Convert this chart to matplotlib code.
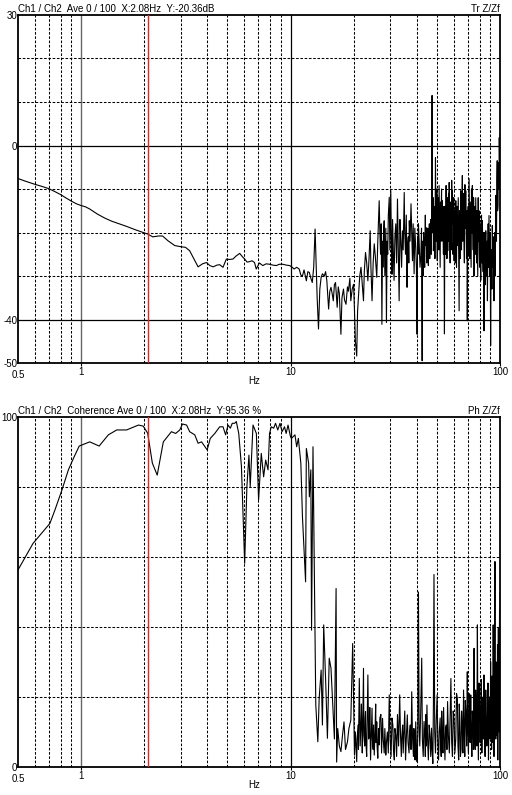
import matplotlib.pyplot as plt

plt.rcParams['font.family'] = ['Liberation Sans', 'DejaVu Sans']

# transfer function, dB (top panel)
tf_freq = [0.50, 0.55, 0.60, 0.65, 0.70, 0.75, 0.80, 0.85, 0.90, 0.95, 1.00, 1.05, 1.10, 1.20, 1.30,
           1.40, 1.50, 1.65, 1.80, 1.95, 2.08, 2.20, 2.35, 2.45, 2.60, 2.80, 3.02, 3.15, 3.30, 3.45,
           3.62, 3.80, 3.97, 4.12, 4.27, 4.45, 4.59, 4.76, 4.94, 5.10, 5.31, 5.50, 5.72, 5.90, 6.04,
           6.20, 6.37, 6.55, 6.73, 6.86, 7.10, 7.37, 7.65, 7.93, 8.25, 8.54, 8.85, 9.18, 9.55, 9.90,
           10.2, 10.4, 10.7, 11.0, 11.2, 11.4, 11.6, 11.9, 12.1, 12.3, 12.5, 12.7, 12.9, 13.1, 13.4,
           13.6, 13.8, 14.0, 14.2, 14.5, 14.7, 14.9, 15.2, 15.4, 15.6, 15.8, 16.0, 16.2, 16.4, 16.7,
           16.9, 17.1, 17.4, 17.6, 17.9, 18.1, 18.4, 18.7, 18.9, 19.2, 19.4, 19.7, 20.0, 20.2, 20.4,
           20.7, 20.9, 21.2, 21.4, 21.7, 22.0, 22.3, 22.5, 22.8, 23.1, 23.4, 23.7, 24.0, 24.2, 24.5,
           24.8, 25.1, 25.4, 25.8, 26.1,
           26.5, 26.7, 26.9, 27.1, 27.3, 27.5, 27.6, 27.8, 28.0, 28.2, 28.3, 28.5, 28.7, 28.9, 29.1,
           29.3, 29.6, 29.8, 30.1, 30.3, 30.5, 30.7, 30.8, 31.0, 31.2, 31.5, 31.8, 32.1, 32.4, 32.7,
           33.0, 33.3, 33.6, 33.9, 34.2, 34.5, 34.9, 35.1, 35.4, 35.7, 36.0, 36.2, 36.5, 36.7, 36.9,
           37.2, 37.6, 37.9, 38.2, 38.5, 38.9, 39.2, 39.6, 39.9, 40.2, 40.4, 40.6, 40.8, 41.1, 41.5,
           41.9, 42.2, 42.5, 42.7, 43.0, 43.2, 43.4, 43.7, 44.0, 44.2, 44.4, 44.7, 45.0, 45.2, 45.5,
           45.7, 46.0, 46.2, 46.4, 46.7,
           47.0, 47.2, 47.4, 47.6, 47.8, 48.0, 48.1, 48.4, 48.6, 48.9, 49.2, 49.4, 49.7, 49.9, 50.2,
           50.4, 50.7, 51.0, 51.2, 51.5, 51.8, 52.0, 52.3, 52.4, 52.6, 52.8, 53.0, 53.4, 53.7, 54.0,
           54.3, 54.5, 54.8, 55.0, 55.3, 55.5, 55.8, 56.0, 56.3, 56.5, 56.8, 57.0, 57.2, 57.5, 57.8,
           58.0, 58.3, 58.5, 58.8, 59.0, 59.3, 59.6, 59.9, 60.1, 60.4, 60.6, 60.9, 61.2, 61.5, 61.7,
           62.0, 62.3, 62.6, 62.9, 63.2, 63.5, 63.8, 64.1, 64.4, 64.6, 64.9, 65.2, 65.5, 65.8, 66.1,
           66.4, 66.7, 67.0, 67.3, 67.6, 68.0, 68.3, 68.6, 68.9, 69.2, 69.5, 69.8, 70.1, 70.5, 70.8,
           71.2, 71.5, 71.8, 72.1, 72.5, 72.8, 73.1, 73.4, 73.8, 74.1, 74.5, 74.8, 75.2, 75.5, 75.9,
           76.2, 76.6, 76.9, 77.3, 77.6, 78.0, 78.3, 78.7, 79.0, 79.4, 79.8, 80.1, 80.5, 80.9, 81.2,
           81.6, 82.0, 82.4, 82.7, 83.1, 83.5, 83.9, 84.3, 84.7, 85.1, 85.5, 85.9, 86.3, 86.7, 87.1,
           87.4, 87.8, 88.2, 88.6, 89.0, 89.4, 89.8, 90.2, 90.6, 91.0, 91.5, 91.9, 92.3, 92.7, 93.1,
           93.6, 94.0, 94.5, 94.9, 95.4, 95.8, 96.2, 96.6, 97.0, 97.4, 97.8, 98.2, 98.5, 98.9, 99.2,
           99.6, 100.0]
tf_db = [-7.6, -8.3, -8.9, -9.4, -9.9, -10.6, -11.3, -12.1, -12.8, -13.4, -13.8, -14.1, -14.6, -15.8, -16.7,
         -17.4, -17.9, -18.6, -19.3, -19.9, -20.36, -21.0, -20.8, -20.8, -21.9, -23.0, -23.3, -23.4, -24.2, -26.0,
         -27.9, -27.2, -26.9, -27.6, -27.9, -27.5, -27.4, -28.0, -26.1, -26.2, -26.1, -25.4, -24.8, -25.6, -26.1,
         -26.8, -26.7, -26.5, -26.9, -28.4, -27.0, -27.6, -27.2, -27.3, -27.5, -27.6, -27.3, -27.3, -27.5, -27.6,
         -28.0, -28.4, -28.0, -28.4, -29.8, -30.0, -28.6, -31.1, -29.0, -29.2, -30.5, -31.5, -28.0, -19.2, -35.0,
         -42.2, -33.0, -30.3, -29.5, -30.0, -29.0, -31.0, -37.6, -33.5, -32.6, -34.0, -35.7, -32.0, -31.5, -37.2,
         -32.5, -34.0, -43.4, -35.0, -33.0, -35.5, -36.5, -32.5, -33.5, -30.5, -35.7, -33.0, -31.9, -38.0, -45.0,
         -48.4, -38.0, -33.4, -30.0, -28.0, -32.0, -35.7, -29.0, -24.6, -27.0, -31.1, -26.0, -19.6, -28.0, -35.7,
         -27.0, -22.6, -25.5, -30.3, -22.0,
         -12.7, -20.0, -25.0, -18.0, -41.1, -22.0, -28.0, -20.0, -17.3, -30.0, -26.0, -19.0, -40.7, -22.0, -25.0,
         -16.0, -11.9, -24.0, -10.4, -22.0, -29.6, -17.0, -20.0, -26.0, -31.0, -21.0, -18.0, -27.0, -12.3, -24.0,
         -35.7, -17.0, -22.0, -28.0, -19.6, -24.0, -10.8, -20.0, -25.0, -16.0, -32.6, -23.0, -21.0, -27.0, -17.3,
         -22.0, -13.4, -20.0, -26.5, -18.0, -29.5, -19.0, -23.5, -28.0, -43.4, -21.0, -25.0, -18.0, -21.9, -28.0,
         -25.3, -19.0, -49.5, -22.0, -30.0, -20.0, -24.2, -28.0, -16.0, -23.0, -18.9, -27.0, -24.0, -19.0, -27.6,
         -22.0, -18.0, -26.0, -21.9, -17.0,
         -25.0, -15.0, 11.5, -18.0, -20.0, -12.0, -24.2, -18.0, -14.0, -26.0, -2.8, -16.0, -22.0, -10.0, -26.5,
         -15.0, -12.0, -24.0, -9.2, -19.0, -28.0, -13.0, -21.9, -15.0, -10.0, -22.0, -12.7, -18.0, -25.0, -14.0,
         -43.3, -20.0, -14.0, -25.0, -9.2, -18.0, -26.0, -12.0, -24.2, -16.0, -11.0, -22.0, -8.5, -19.0, -27.0,
         -13.0, -20.7, -24.0, -8.0, -18.0, -10.4, -25.0, -22.0, -12.0, -26.5, -17.0, -15.0, -27.0, -12.7, -21.0,
         -28.0, -14.0, -23.0, -18.0, -12.0, -25.0, -38.0, -15.0, -17.0, -26.0, -10.4, -20.0, -24.0, -13.0, -6.9,
         -22.0, -18.0, -11.0, -21.9, -27.0, -9.0, -19.0, -10.4, -17.0, -26.0, -15.0, -40.3, -20.0, -14.0, -25.0,
         -7.6, -18.0, -26.0, -13.0, -21.9, -28.0, -10.0, -20.0, -9.2, -17.0, -24.0, -12.0, -30.0, -20.0, -14.0,
         -25.0, -12.0, -19.0, -27.0, -15.0, -24.2, -30.0, -12.0, -22.0, -15.0, -26.0, -28.0, -18.0, -31.0, -22.0,
         -16.0, -27.0, -17.3, -24.0, -29.0, -20.0, -42.6, -26.0, -20.0, -32.0, -19.6, -27.0, -30.0, -22.0, -35.7,
         -25.0, -18.0, -28.0, -16.1, -24.0, -30.0, -20.0, -46.0, -28.0, -24.0, -33.0, -18.4, -25.0, -28.0, -21.0,
         -35.7, -26.0, -20.0, -30.0, -11.5, -18.0, -22.0, -8.0, -3.5, -15.0, -13.8, -4.0, -6.0, -10.0, 1.8,
         -5.0, 2.5]

# coherence, % (bottom panel)
coh_freq = [0.50, 0.59, 0.71, 0.75, 0.81, 0.87, 0.92, 0.98, 1.10, 1.22, 1.35, 1.48, 1.65, 1.88, 1.98,
            2.08, 2.13, 2.19, 2.31, 2.47, 2.70, 2.83, 2.96, 3.05, 3.19, 3.30, 3.49, 3.62, 3.76, 3.85,
            4.00, 4.14, 4.35, 4.59, 4.76, 4.90, 5.03, 5.16, 5.27, 5.41, 5.51, 5.66, 5.83, 6.04, 6.19,
            6.33, 6.42, 6.62, 6.87, 7.04, 7.25, 7.44, 7.61, 7.81, 7.94, 8.09, 8.31, 8.48, 8.69, 8.91,
            9.11, 9.36, 9.53, 9.73, 9.99, 10.1, 10.5, 10.7, 10.9, 11.2, 11.4, 11.6, 11.8, 11.9, 12.2,
            12.3, 12.5, 12.6, 12.8, 13.2, 13.5, 13.7, 14.0, 14.2, 14.4, 14.7, 15.0, 15.3, 15.6, 15.9,
            16.2, 16.5, 16.6, 16.8, 17.1, 17.4, 17.7, 18.0, 18.3, 18.7, 19.0, 19.4, 19.8,
            20.2, 20.4, 20.7, 20.8, 21.0, 21.1, 21.3, 21.5, 21.7, 21.8, 22.0, 22.1, 22.3, 22.4, 22.6,
            22.7, 22.8, 22.9, 23.1, 23.2, 23.4, 23.6, 23.8, 23.9, 24.1, 24.3, 24.5, 24.6, 24.8, 24.9,
            25.1, 25.3, 25.5, 25.6, 25.8, 25.9, 26.1, 26.3, 26.5, 26.7, 27.0, 27.2, 27.5, 27.7, 28.0,
            28.2, 28.5, 28.7, 29.0, 29.3, 29.6, 29.9, 30.2, 30.5, 30.8, 31.0, 31.3, 31.5, 31.8, 32.1,
            32.4, 32.8, 33.2, 33.5, 33.8, 34.0, 34.3, 34.5, 34.8, 35.1, 35.4, 35.7, 36.1, 36.4, 36.8,
            37.0, 37.3, 37.6, 37.9, 38.2, 38.6, 38.8, 39.1, 39.3, 39.6, 39.9, 40.2, 40.5, 40.8, 41.1,
            41.4, 41.8, 42.3, 42.6, 43.0, 43.4, 43.8, 44.0, 44.3, 44.5, 44.8, 45.1, 45.5, 45.9, 46.3,
            46.7, 47.1, 47.4, 47.8, 48.1, 48.4, 48.8, 49.2, 49.6, 50.1, 50.5, 50.9, 51.3, 51.8, 52.1,
            52.4, 52.7, 53.0, 53.4, 53.8, 54.2, 54.6, 55.0, 55.4, 55.8, 56.2, 56.7, 57.3, 57.8, 58.3,
            58.8, 59.3, 59.8, 60.4, 60.9, 61.5, 62.0, 62.6, 63.0, 63.5, 63.9, 64.3, 64.7, 65.2, 65.6,
            66.1, 66.5, 67.0, 67.5, 67.9, 68.3, 68.8, 69.3, 69.8, 70.2, 70.7, 71.1, 71.6, 72.0, 72.5,
            72.9, 73.4, 73.8, 74.3, 74.7, 75.2, 75.6, 76.1, 76.5, 77.0, 77.5, 78.0, 78.4, 78.9, 79.4,
            79.9, 80.4, 80.9, 81.4, 81.9, 82.4, 82.9, 83.4, 83.9, 84.4, 84.9, 85.5, 86.0, 86.5, 87.1,
            87.6, 88.1, 88.6, 89.2, 89.7, 90.2, 90.7, 91.2, 91.6, 92.0, 92.4, 92.8, 93.2, 93.6, 94.1,
            94.6, 95.0, 95.5, 95.9, 96.3, 96.7, 97.0, 97.3, 97.6, 97.9, 98.2, 98.6, 99.0, 99.2, 99.5,
            99.8, 100.0]
coh_pct = [56.3, 63.9, 69.6, 73.4, 79.1, 84.9, 88.2, 91.7, 92.9, 91.7, 94.9, 96.3, 96.3, 97.7, 97.4,
           95.36, 91.5, 86.8, 83.4, 92.9, 95.8, 95.3, 96.3, 98.0, 97.7, 95.8, 94.9, 92.5, 92.9, 92.0,
           90.6, 93.9, 95.3, 97.2, 97.2, 94.9, 97.7, 96.8, 98.2, 98.2, 98.7, 95.3, 85.8, 58.2, 80.1,
           89.1, 80.1, 97.7, 95.3, 76.3, 89.6, 82.9, 87.7, 84.9, 95.3, 97.2, 96.8, 98.2, 96.3, 98.2,
           95.8, 97.2, 95.3, 97.7, 94.4, 93.9, 94.9, 91.5, 93.9, 86.8, 71.5, 62.0, 52.9, 91.0, 86.8,
           77.2, 84.9, 39.1, 91.5, 17.7, 7.2, 19.6, 27.7, 12.0, 40.6, 25.3, 8.2, 31.1, 28.2, 17.7,
           8.0, 51.0, 1.4, 11.0, 6.0, 4.4, 9.0, 12.9, 5.0, 7.2, 11.0, 13.4, 35.3,
           3.4, 10.0, 1.5, 8.0, 12.0, 5.0, 25.3, 6.0, 12.9, 18.0, 4.0, 10.0, 28.2, 9.0, 6.0,
           14.0, 15.8, 7.0, 3.0, 11.0, 26.3, 8.0, 9.1, 17.0, 2.0, 9.0, 16.8, 8.0, 5.0, 12.0,
           3.4, 10.0, 18.0, 7.0, 12.9, 6.0, 2.5, 11.0, 6.3, 14.0, 15.0, 4.0, 13.9, 8.0, 4.0,
           11.0, 3.4, 7.0, 10.0, 4.0, 20.6, 8.0, 3.0, 14.0, 12.0, 5.0, 2.0, 11.0, 9.1, 3.0,
           15.0, 6.0, 20.6, 9.0, 3.0, 9.0, 12.0, 4.0, 10.1, 16.0, 2.0, 8.0, 14.9, 7.0, 4.0,
           10.0, 12.0, 5.0, 21.5, 9.0, 3.0, 11.0, 8.0, 2.0, 12.9, 6.0, 1.5, 9.0, 50.0, 12.0,
           6.0, 15.0, 31.1, 8.0, 3.0, 13.0, 8.2, 3.0, 15.0, 6.0, 17.7, 8.0, 2.0, 12.0, 9.0,
           3.0, 11.1, 5.0, 1.0, 18.0, 55.0, 10.0, 4.0, 13.0, 20.6, 7.0, 2.0, 10.0, 14.0, 6.0,
           3.0, 16.0, 9.1, 4.0, 17.0, 8.0, 2.0, 11.0, 12.0, 5.0, 18.7, 9.0, 4.0, 14.0, 25.3,
           7.0, 3.0, 16.0, 12.9, 4.0, 8.0, 21.0, 19.6, 6.0, 2.0, 18.0, 14.0, 3.0, 5.0, 16.0,
           11.1, 4.0, 22.0, 9.0, 3.0, 19.0, 15.0, 6.0, 27.2, 10.0, 4.0, 21.0, 18.0, 7.0, 20.6,
           9.0, 3.0, 16.0, 12.0, 5.0, 33.9, 11.0, 5.0, 22.0, 16.0, 6.0, 40.6, 12.0, 2.0, 24.0,
           18.0, 7.0, 14.9, 25.0, 4.0, 16.0, 20.0, 8.0, 26.3, 10.0, 3.0, 22.0, 15.0, 6.0, 12.9,
           24.0, 2.0, 14.0, 20.0, 8.0, 30.1, 12.0, 5.0, 26.0, 18.0, 7.0, 40.6, 15.0, 3.0, 22.0,
           58.7, 14.0, 8.0, 30.0, 25.0, 9.0, 20.6, 35.0, 2.0, 18.0, 39.6, 22.0, 10.0, 30.0, 45.0,
           20.0, 50.0]

cursor_hz = 2.08
minor_hz = [0.6, 0.7, 0.8, 0.9, 2, 3, 4, 5, 6, 7, 8, 9, 20, 30, 40, 50, 60, 70, 80, 90]

dash = (0, (2.5, 1.6))
fs = 7

fig = plt.figure(figsize=(5.12, 7.95), dpi=100)
ax1 = fig.add_axes([18 / 512, 1 - 363 / 795, 482 / 512, 348 / 795])
ax2 = fig.add_axes([18 / 512, 1 - 767 / 795, 482 / 512, 350 / 795])


def setup(ax, ylim, dashed_y, solid_y, yticks, title, tag):
    ax.set_xscale('log')
    ax.set_xlim(0.5, 100)
    ax.set_ylim(*ylim)
    for f in minor_hz:
        ax.axvline(f, color='k', ls=dash, lw=0.75, zorder=1)
    ax.axvline(1, color='#666666', lw=1.0, zorder=1)
    ax.axvline(10, color='k', lw=0.9, zorder=1)
    for v in dashed_y:
        ax.axhline(v, color='k', ls=dash, lw=0.75, zorder=1)
    for v in solid_y:
        ax.axhline(v, color='k', lw=0.9, zorder=1)
    ax.axvline(cursor_hz, color='#d8282a', lw=1.0, zorder=3)
    for s in ax.spines.values():
        s.set_linewidth(1.3)
    ax.set_yticks(yticks)
    ax.set_yticklabels([str(t) for t in yticks])
    ax.set_xticks([1, 10, 100])
    ax.set_xticklabels(['1', '10', '100'])
    ax.minorticks_off()
    ax.tick_params(axis='x', length=2, width=0.8, labelsize=fs, pad=1)
    ax.tick_params(axis='y', length=0, labelsize=fs, pad=0.5)
    ax.text(0.0, -0.021, '0.5', transform=ax.transAxes, fontsize=fs, ha='center', va='top')
    ax.text(0.49, -0.036, 'Hz', transform=ax.transAxes, fontsize=fs, ha='center', va='top')
    ax.text(0.0, 1.004, title, transform=ax.transAxes, fontsize=fs, ha='left', va='bottom')
    ax.text(1.0, 1.004, tag, transform=ax.transAxes, fontsize=fs, ha='right', va='bottom')


setup(ax1, (-50, 30), [20, 10, -10, -20, -30], [0, -40], [30, 0, -40, -50],
      'Ch1 / Ch2  Ave 0 / 100  X:2.08Hz  Y:-20.36dB', 'Tr Z/Zf')
setup(ax2, (0, 100), [20, 40, 60, 80], [], [0, 100],
      'Ch1 / Ch2  Coherence Ave 0 / 100  X:2.08Hz  Y:95.36 %', 'Ph Z/Zf')

ax1.plot(tf_freq, tf_db, color='k', lw=0.8, zorder=2)
ax2.plot(coh_freq, coh_pct, color='k', lw=0.8, zorder=2)

fig.savefig('out.png', dpi=100)
